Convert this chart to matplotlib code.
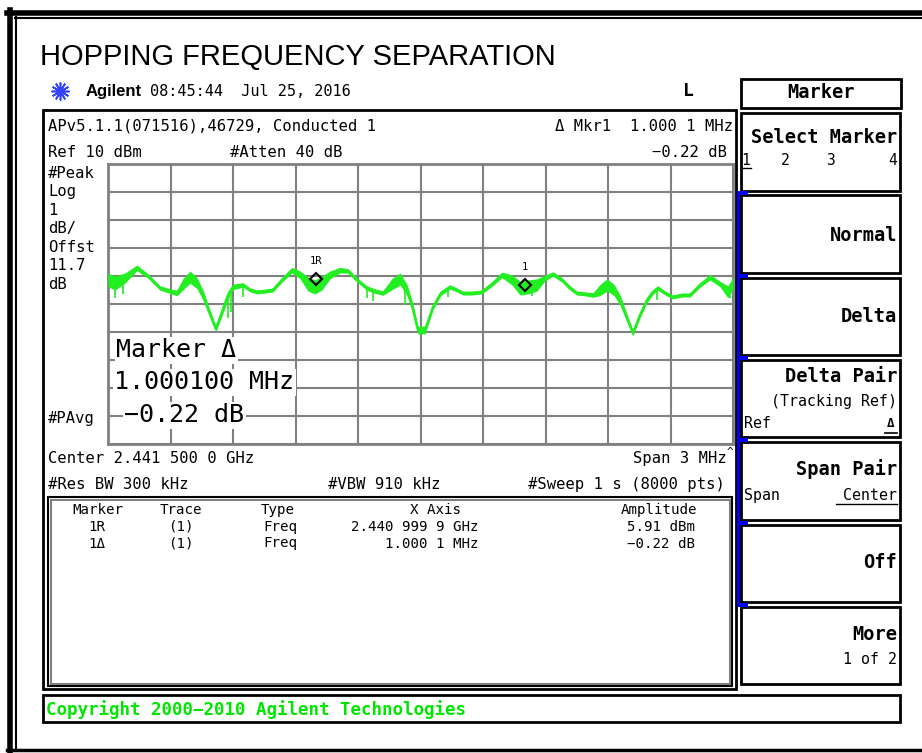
import numpy as np
import matplotlib
matplotlib.use('Agg')
import matplotlib.pyplot as plt
from matplotlib.patches import Rectangle

W, H = 922, 753
mono = 'DejaVu Sans Mono'
green = '#22ee22'
grey = '#808080'

# analyzer settings shown on screen
center_mhz = 2441.5
span_mhz = 3.0
ref_dbm = 10.0
db_div = 1.0

# trace: offset from start freq (MHz), level (dBm), half width of noise band (dB)
trace_off = [0.000, 0.034, 0.082, 0.139, 0.192, 0.250, 0.298, 0.331, 0.360, 0.394,
             0.427, 0.456, 0.490, 0.518, 0.547, 0.576, 0.600, 0.648, 0.682, 0.715,
             0.754, 0.792, 0.835, 0.883, 0.922, 0.960, 0.994, 1.027, 1.066, 1.114,
             1.152, 1.195, 1.243, 1.282, 1.320, 1.363, 1.402, 1.435, 1.459, 1.488,
             1.522, 1.560, 1.598, 1.642, 1.675, 1.704, 1.747, 1.795, 1.843, 1.891,
             1.939, 1.978, 2.016, 2.059, 2.098, 2.136, 2.179, 2.218, 2.251, 2.290,
             2.328, 2.362, 2.395, 2.429, 2.458, 2.491, 2.520, 2.554, 2.587, 2.616,
             2.640, 2.674, 2.712, 2.755, 2.794, 2.842, 2.890, 2.938, 2.976, 3.000]
trace_dbm = [5.86, 5.75, 5.93, 6.29, 6.00, 5.57, 5.46, 5.39, 5.71, 5.96,
             5.75, 5.32, 4.64, 4.11, 4.71, 5.32, 5.61, 5.68, 5.50, 5.43,
             5.46, 5.50, 5.86, 6.21, 6.04, 5.71, 5.61, 5.75, 6.04, 6.21,
             6.18, 5.86, 5.57, 5.46, 5.39, 5.71, 5.89, 5.50, 4.96, 4.07,
             4.07, 4.89, 5.39, 5.61, 5.50, 5.39, 5.39, 5.43, 5.71, 6.04,
             5.86, 5.57, 5.61, 5.68, 5.93, 6.07, 5.86, 5.57, 5.39, 5.36,
             5.32, 5.50, 5.68, 5.50, 5.14, 4.50, 3.96, 4.61, 5.14, 5.43,
             5.57, 5.39, 5.25, 5.32, 5.32, 5.68, 5.96, 5.71, 5.43, 5.75]
trace_band = [0.25, 0.25, 0.18, 0.10, 0.08, 0.08, 0.08, 0.10, 0.20, 0.22,
              0.20, 0.18, 0.14, 0.10, 0.14, 0.14, 0.10, 0.08, 0.07, 0.07,
              0.07, 0.07, 0.08, 0.10, 0.14, 0.25, 0.25, 0.25, 0.14, 0.10,
              0.08, 0.08, 0.08, 0.08, 0.08, 0.20, 0.22, 0.20, 0.18, 0.14,
              0.14, 0.10, 0.08, 0.08, 0.07, 0.07, 0.07, 0.07, 0.08, 0.10,
              0.18, 0.25, 0.25, 0.22, 0.10, 0.08, 0.08, 0.08, 0.07, 0.07,
              0.08, 0.20, 0.22, 0.20, 0.18, 0.14, 0.10, 0.10, 0.10, 0.08,
              0.08, 0.07, 0.07, 0.07, 0.07, 0.08, 0.10, 0.10, 0.22, 0.22]

# downward noise spikes (offset MHz, lowest dBm)
spike_off = [0.034, 0.070, 0.576, 0.590, 0.648, 1.243, 1.270, 1.426, 1.632, 2.035, 2.635, 2.986]
spike_low = [5.20, 5.35, 4.50, 4.70, 5.25, 5.20, 5.10, 4.95, 5.25, 5.30, 5.14, 5.20]

mkr_freq = [2440.9999, 2442.0000]
mkr_dbm = [5.91, 5.69]
mkr_name = ['1R', '1']

side_labels = ['#Peak', 'Log', '1', 'dB/', 'Offst', '11.7', 'dB']

tbl_head = ['Marker', 'Trace', 'Type', 'X Axis', 'Amplitude']
tbl_rows = [['1R', '(1)', 'Freq', '2.440 999 9 GHz', '5.91 dBm'],
            ['1\u0394', '(1)', 'Freq', '1.000 1 MHz', '-0.22 dB']]

softkeys = ['Select Marker', 'Normal', 'Delta', 'Delta Pair', 'Span Pair', 'Off', 'More']

fig = plt.figure(figsize=(W / 100, H / 100), dpi=100)

# ---- trace graticule
ax = fig.add_axes([108 / W, 1 - 444 / H, 625 / W, 280 / H])
f0 = center_mhz - span_mhz / 2
freqs = f0 + np.array(trace_off)
lvl = np.array(trace_dbm)
band = np.array(trace_band)
ax.set_xlim(f0, f0 + span_mhz)
ax.set_ylim(ref_dbm - 10 * db_div, ref_dbm)
ax.set_xticks(np.linspace(f0, f0 + span_mhz, 11))
ax.set_yticks(np.linspace(ref_dbm - 10 * db_div, ref_dbm, 11))
ax.grid(True, color=grey, lw=1.5)
ax.tick_params(length=0, labelbottom=False, labelleft=False)
for s in ax.spines.values():
    s.set_color(grey)
    s.set_linewidth(2)
ax.fill_between(freqs, lvl - band, lvl + band, color=green, lw=0, zorder=3)
ax.plot(freqs, lvl, color=green, lw=1.8, zorder=3)
sf = f0 + np.array(spike_off)
ax.vlines(sf, spike_low, np.interp(sf, freqs, lvl), color=green, lw=1.2, zorder=3)
ax.plot(mkr_freq, mkr_dbm, 'D', mfc='none', mec='k', ms=6, mew=1.5, zorder=4)
for f, d, n in zip(mkr_freq, mkr_dbm, mkr_name):
    ax.annotate(n, (f, d), xytext=(0, 9), textcoords='offset points', ha='center',
                va='bottom', fontsize=7.5, family=mono, zorder=4)

# ---- overlay in pixel coords for the rest of the screen
o = fig.add_axes([0, 0, 1, 1])
o.set_xlim(0, W)
o.set_ylim(H, 0)
o.axis('off')
o.patch.set_alpha(0)

def txt(x, y, s, size=11.2, ha='left', bold=False, **kw):
    o.text(x, y, s, fontsize=size, ha=ha, va='center', family=kw.pop('family', mono),
           fontweight='bold' if bold else 'normal', **kw)

def box(x0, y0, x1, y1, lw=2, ec='k'):
    o.add_patch(Rectangle((x0, y0), x1 - x0, y1 - y0, fill=False, ec=ec, lw=lw))

# outer frame
o.plot([7, W], [12.5, 12.5], color='k', lw=4)
o.plot([15, W], [17.5, 17.5], color='k', lw=1.5)
o.plot([9.5, 9.5], [10, H], color='k', lw=4)
o.plot([16, 16], [17, 750], color='k', lw=1.5)
o.plot([7, W], [750, 750], color='k', lw=2.5)

o.text(40, 65, 'HOPPING FREQUENCY SEPARATION', fontsize=21, family='Liberation Sans', va='baseline')

# header line
o.plot([60], [91], marker=(12, 2, 0), ms=13, color='#3344ff', mew=1.2)
txt(86, 91, 'Agilent', size=12, bold=True, family='Liberation Sans')
txt(150, 91, '08:45:44  Jul 25, 2016', size=11)
txt(688, 91, 'L', size=13, ha='center', bold=True)

# main screen box
box(43, 110, 736, 689)
txt(48, 126, 'APv5.1.1(071516),46729, Conducted 1')
txt(48, 152, 'Ref 10 dBm')
txt(230, 152, '#Atten 40 dB')
txt(733, 126, '\u0394 Mkr1  1.000 1 MHz', ha='right')
txt(727, 152, '\u22120.22 dB', ha='right')
for i, s in enumerate(side_labels):
    txt(48, 173 + i * 18.5, s)
txt(48, 418, '#PAvg')

# big marker readout
wb = dict(fc='white', ec='none', pad=1)
txt(116, 350, 'Marker \u0394', size=18, bbox=wb)
txt(114, 382, '1.000100 MHz', size=18, bbox=wb)
txt(124, 415, '\u22120.22 dB', size=18, bbox=wb)

txt(48, 458, 'Center 2.441 500 0 GHz')
txt(727, 458, 'Span 3 MHz', ha='right')
txt(730, 452, '^', size=8, ha='center')
txt(48, 484, '#Res BW 300 kHz')
txt(328, 484, '#VBW 910 kHz')
txt(725, 484, '#Sweep 1 s (8000 pts)', ha='right')

# marker table
box(48, 497, 732, 686, lw=1.5)
box(50.5, 499.5, 729.5, 683.5, lw=1.5, ec=grey)
head_x = [98, 181, 278, 435, 659]
for x, s in zip(head_x, tbl_head):
    txt(x, 510, s, size=10.2, ha='center')
col_x = [97, 181, 280, 478, 695]
col_ha = ['center', 'center', 'center', 'right', 'right']
for r, row in enumerate(tbl_rows):
    for x, ha, s in zip(col_x, col_ha, row):
        txt(x, 527 + r * 16.5, s.replace('-', '\u2212'), size=10.2, ha=ha)

# copyright line
box(43, 695, 900, 722)
txt(46, 710, 'Copyright 2000\u22122010 Agilent Technologies', size=12.6, bold=True, color='#00e600')

# softkey panel
box(741, 79, 901, 108)
txt(821, 92, 'Marker', size=13.4, ha='center', bold=True)
o.add_patch(Rectangle((737, 192), 4, 414, color='#0000ee', lw=0))
key_top, key_pitch, key_h = 113, 82.3, 77.5
key_y = [137, 235, 316, 376, 469, 562, 635]
for i, s in enumerate(softkeys):
    t = key_top + i * key_pitch
    box(741, t, 900, t + key_h)
    if i > 0:
        o.add_patch(Rectangle((737, t - 4), 11, 4, color='#0000ee', lw=0))
    txt(897, key_y[i], s, size=13.4, ha='right', bold=True)
o.add_patch(Rectangle((737, 603), 11, 4, color='#0000ee', lw=0))

for x, s in zip([746, 785, 830, 893], ['1', '2', '3', '4']):
    txt(x, 160, s, size=10.5, ha='center')
o.plot([742, 751], [168, 168], color='k', lw=1)
txt(897, 401, '(Tracking Ref)', size=10.7, ha='right')
txt(744, 423, 'Ref', size=10.7)
txt(891, 423, '\u0394', size=9, ha='center', bold=True)
o.plot([885, 897], [433, 433], color='k', lw=1.2)
txt(744, 495, 'Span', size=10.7)
txt(897, 495, 'Center', size=10.7, ha='right')
o.plot([836, 897], [504, 504], color='k', lw=1)
txt(897, 660, '1 of 2', size=10.7, ha='right')

fig.savefig('out.png', dpi=100)
